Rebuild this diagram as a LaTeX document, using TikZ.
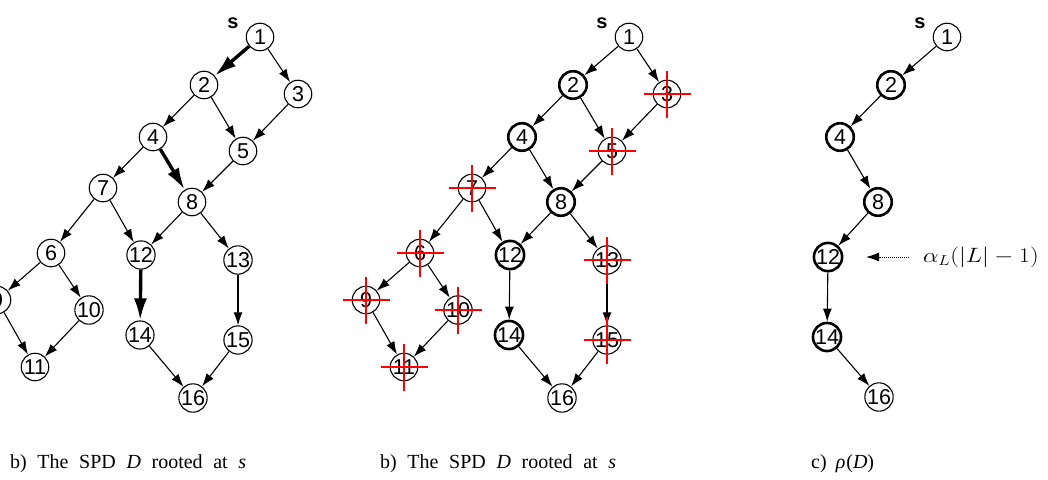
\documentclass[tikz,border=0pt]{standalone}
\usepackage{fontspec}
\setmainfont{Liberation Serif}
\newfontfamily\nodefont{Liberation Sans}
\usetikzlibrary{arrows.meta}
\begin{document}
\begin{tikzpicture}[x=1pt,y=-1pt,
  vtx/.style={circle, draw, line width=1.1pt, minimum size=27.5pt, inner sep=0pt,
              font=\nodefont\fontsize{21.5}{21.5}\selectfont},
  bvtx/.style={vtx, line width=2.6pt},
  edge/.style={-{Latex[length=13pt,width=9pt]}, line width=1.1pt},
  tedge/.style={-{Latex[length=22pt,width=13pt]}, line width=3.4pt},
  xmark/.style={red, line width=1.2pt},
  slab/.style={font=\nodefont\bfseries\fontsize{20}{20}\selectfont, inner sep=0pt},
  captext/.style={anchor=base west, inner sep=0pt, font=\fontsize{20}{22}\selectfont}]
\useasboundingbox (0,0) rectangle (1048,479);

% ---------- panel a ----------
\foreach \n/\x/\y in {1/260/37, 2/204/85, 3/298/94, 4/153/137, 5/243/151,
  7/103/188, 8/192/202, 6/51/253, 12/141/255, 13/238/260, 9/-3/300,
  10/89/310, 14/140/335, 15/238/340, 11/35/367, 16/193/398}
  \node[vtx] (a\n) at (\x,\y) {\n};
\node[slab] (sa) at (233,23) {s};
\foreach \u/\v in {1/3, 2/4, 2/5, 3/5, 4/7, 5/8, 7/6, 7/12, 8/12, 8/13,
  6/9, 6/10, 9/11, 10/11, 13/15, 14/16, 15/16}
  \draw[edge] (a\u) -- (a\v);
\foreach \u/\v in {1/2, 4/8, 12/14}
  \draw[tedge] (a\u) -- (a\v);

% ---------- panel b ----------
\foreach \n/\x/\y in {1/629/37, 3/667/94, 5/612/151,
  7/472/188, 6/420/253, 13/607/260, 9/366/300,
  10/458/310, 15/607/340, 11/404/367, 16/562/398}
  \node[vtx] (b\n) at (\x,\y) {\n};
\foreach \n/\x/\y in {2/573/85, 4/522/137, 8/561/202, 12/510/255, 14/509/335}
  \node[bvtx] (b\n) at (\x,\y) {\n};
\node[slab] (sb) at (602,23) {s};
\foreach \u/\v in {1/2, 1/3, 2/4, 2/5, 3/5, 4/7, 4/8, 5/8, 7/6, 7/12, 8/12, 8/13,
  6/9, 6/10, 9/11, 10/11, 12/14, 13/15, 14/16, 15/16}
  \draw[edge] (b\u) -- (b\v);
\foreach \n in {3,5,7,6,9,10,11,13,15}
  \draw[xmark] ([xshift=-23.5pt]b\n.center) -- ([xshift=23.5pt]b\n.center)
               ([yshift=-23.5pt]b\n.center) -- ([yshift=23.5pt]b\n.center);

% ---------- panel c ----------
\node[vtx] (c1) at (947,37) {1};
\node[bvtx] (c2) at (891,85) {2};
\node[bvtx] (c4) at (840,137) {4};
\node[bvtx] (c8) at (878,202) {8};
\node[bvtx] (c12) at (828,257) {12};
\node[bvtx] (c14) at (827,337) {14};
\node[vtx] (c16) at (879,397) {16};
\node[slab] (sc) at (920,23) {s};
\foreach \u/\v in {1/2, 2/4, 4/8, 8/12, 12/14, 14/16}
  \draw[edge] (c\u) -- (c\v);
\node[anchor=west, inner sep=0pt, font=\fontsize{20}{20}\selectfont] (alab) at (923,257)
  {\scalebox{1.18}[1]{$\alpha_L(|L|-1)$}};
\coordinate (atip) at (866,257);
\draw[densely dotted, line width=1pt, -{Latex[length=13pt,width=9pt]}]
  ([xshift=-14pt]alab.west) -- (atip);

% ---------- captions ----------
\node[captext] (cap1) at (10,468) {\makebox[236pt][s]{b) The SPD \textit{D} rooted at \textit{s}}};
\node[captext] (cap2) at (380,468) {\makebox[236pt][s]{b) The SPD \textit{D} rooted at \textit{s}}};
\node[captext] (cap3) at (811,468) {c)\hspace{9pt}\textit{ρ}\kern1pt(\textit{D})};
\end{tikzpicture}
\end{document}
